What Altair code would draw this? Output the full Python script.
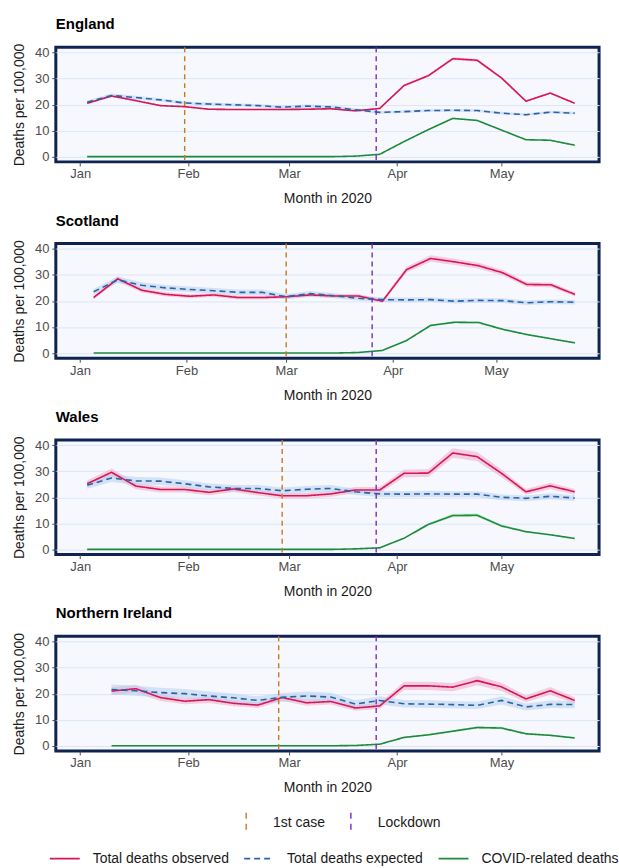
import altair as alt
import pandas as pd

FONT = "Liberation Sans"

# ---- data -------------------------------------------------------------
fridays = ["2020-01-03", "2020-01-10", "2020-01-17", "2020-01-24", "2020-01-31",
           "2020-02-07", "2020-02-14", "2020-02-21", "2020-02-28", "2020-03-06",
           "2020-03-13", "2020-03-20", "2020-03-27", "2020-04-03", "2020-04-10",
           "2020-04-17", "2020-04-24", "2020-05-01", "2020-05-08", "2020-05-15",
           "2020-05-22"]
sundays = ["2020-01-05", "2020-01-12", "2020-01-19", "2020-01-26", "2020-02-02",
           "2020-02-09", "2020-02-16", "2020-02-23", "2020-03-01", "2020-03-08",
           "2020-03-15", "2020-03-22", "2020-03-29", "2020-04-05", "2020-04-12",
           "2020-04-19", "2020-04-26", "2020-05-03", "2020-05-10", "2020-05-17",
           "2020-05-24"]
ni_fridays = fridays[1:]

england_obs = [20.5, 23.3, 21.5, 19.6, 19.2, 18.2, 18.1, 18.1, 18.1, 18.2, 18.4,
               17.6, 18.5, 27.3, 31.1, 37.6, 37.0, 30.2, 21.3, 24.4, 20.5]
england_exp = [20.9, 23.5, 22.7, 21.8, 20.6, 20.2, 19.9, 19.6, 19.0, 19.4, 19.1,
               18.0, 17.0, 17.3, 17.7, 17.8, 17.7, 16.7, 16.1, 17.1, 16.7]
england_cov = [0, 0, 0, 0, 0, 0, 0, 0, 0, 0, 0,
               0.2, 0.9, 5.8, 10.4, 14.7, 13.9, 10.2, 6.5, 6.3, 4.4]

scotland_obs = [21.3, 28.5, 24.1, 22.5, 21.8, 22.3, 21.3, 21.3, 21.6, 22.3, 21.9,
                21.9, 19.9, 32.0, 36.3, 35.0, 33.5, 30.8, 26.3, 26.2, 22.5]
scotland_exp = [23.5, 28.1, 26.0, 25.0, 24.4, 23.9, 23.3, 23.3, 21.6, 22.8, 22.0,
                21.0, 20.5, 20.4, 20.5, 19.9, 20.2, 20.1, 19.3, 19.7, 19.5]
scotland_cov = [0, 0, 0, 0, 0, 0, 0, 0, 0, 0, 0,
                0.2, 1.0, 4.8, 10.6, 11.8, 11.7, 9.1, 7.1, 5.5, 3.9]

wales_obs = [25.2, 29.6, 24.3, 23.0, 23.0, 21.9, 23.2, 21.8, 20.6, 20.6, 21.3,
             22.8, 22.8, 29.2, 29.3, 37.0, 35.6, 29.2, 22.1, 24.4, 22.1]
wales_exp = [24.6, 27.4, 26.3, 26.2, 25.2, 24.0, 23.4, 23.4, 22.5, 23.1, 23.4,
             22.1, 21.3, 21.2, 21.3, 21.2, 21.2, 20.0, 19.6, 20.4, 19.7]
wales_cov = [0, 0, 0, 0, 0, 0, 0, 0, 0, 0, 0,
             0.2, 0.6, 4.3, 9.6, 13.0, 13.1, 9.0, 6.8, 5.6, 4.2]

ni_obs = [21.0, 21.9, 18.5, 17.1, 17.7, 16.3, 15.6, 18.5, 16.5, 17.0,
          14.5, 15.3, 23.0, 23.0, 22.5, 25.0, 22.6, 18.0, 21.1, 17.4]
ni_exp = [21.6, 21.1, 20.4, 20.0, 19.1, 18.4, 17.4, 18.6, 19.1, 18.7,
          16.0, 17.4, 16.1, 16.0, 15.8, 15.5, 17.4, 14.9, 15.9, 15.8]
ni_cov = [0, 0, 0, 0, 0, 0, 0, 0, 0, 0,
          0.1, 0.6, 3.2, 4.2, 5.6, 7.0, 6.8, 4.6, 4.0, 3.0]

# relative half-width of the shaded uncertainty bands (observed/covid, expected)
band_obs = {"England": 0.015, "Scotland": 0.035, "Wales": 0.05, "Northern Ireland": 0.07}
band_exp = {"England": 0.03, "Scotland": 0.045, "Wales": 0.055, "Northern Ireland": 0.09}

countries = ["England", "Scotland", "Wales", "Northern Ireland"]
country_dates = [fridays, sundays, fridays, ni_fridays]
country_obs = [england_obs, scotland_obs, wales_obs, ni_obs]
country_exp = [england_exp, scotland_exp, wales_exp, ni_exp]
country_cov = [england_cov, scotland_cov, wales_cov, ni_cov]
first_case = ["2020-01-31", "2020-03-01", "2020-02-28", "2020-02-27"]
lockdown = ["2020-03-26", "2020-03-26", "2020-03-26", "2020-03-26"]
domain_end = [(5, 29), (5, 31), (5, 29), (5, 29)]

series_names = ["Total deaths observed", "Total deaths expected", "COVID-related deaths"]
band_names = ["observed band", "expected band", "covid band"]
series_colors = ["#d5165a", "#2b63a6", "#1e8a3c"]
band_colors = ["#f3a9c4", "#b7cfee", "#9fdcaa"]
event_names = ["1st case", "Lockdown"]
event_colors = ["#c9791f", "#7b2cbf"]

month_ticks = [alt.DateTime(year=2020, month=m, date=1, utc=True) for m in range(1, 6)]

# ---- chart --------------------------------------------------------------
color_scale = alt.Scale(domain=series_names, range=series_colors)
dash_scale = alt.Scale(domain=series_names, range=[[1, 0], [6, 4], [1, 0]])
fill_scale = alt.Scale(domain=band_names, range=band_colors)
stroke_scale = alt.Scale(domain=event_names, range=event_colors)

series_legend = alt.Legend(
    title=None, orient="none", direction="horizontal", legendX=-7, legendY=798,
    symbolType="stroke", symbolSize=900, symbolStrokeWidth=1.6,
    labelOffset=12, columnPadding=11, labelFontSize=14, labelFont=FONT,
    labelColor="#1a1a1a",
)
event_legend = alt.Legend(
    title=None, orient="none", direction="horizontal", legendX=180, legendY=767,
    symbolType="M0,-1L0,1", symbolSize=400, symbolStrokeWidth=1.4,
    symbolDash=[6, 5], labelOffset=16, columnPadding=14, labelFontSize=14,
    labelFont=FONT, labelColor="#1a1a1a",
)

panels = []
for i, name in enumerate(countries):
    rows = []
    for s, b, vals, rel in [
        (series_names[0], band_names[0], country_obs[i], band_obs[name]),
        (series_names[1], band_names[1], country_exp[i], band_exp[name]),
        (series_names[2], band_names[2], country_cov[i], band_obs[name]),
    ]:
        for d, v in zip(country_dates[i], vals):
            rows.append({"date": d, "series": s, "band": b, "value": v,
                         "lo": v * (1 - rel), "hi": v * (1 + rel)})
    df = pd.DataFrame(rows)
    ev = pd.DataFrame({"date": [first_case[i], lockdown[i]], "event": event_names})

    m, d = domain_end[i]
    xscale = alt.Scale(type="utc", domain=[
        alt.DateTime(year=2019, month=12, date=25, utc=True),
        alt.DateTime(year=2020, month=m, date=d, utc=True)])
    xaxis = alt.Axis(values=month_ticks, format="%b", title="Month in 2020",
                     grid=False, tickSize=4, labelPadding=2, titlePadding=11)
    yscale = alt.Scale(domain=[-2, 42], nice=False, zero=False)
    yaxis = alt.Axis(values=[0, 10, 20, 30, 40], title="Deaths per 100,000",
                     tickSize=4, labelPadding=3, titlePadding=8)

    x = alt.X("date:T", scale=xscale, axis=xaxis)

    bands = alt.Chart(df).mark_area(opacity=0.55).encode(
        x=x,
        y=alt.Y("lo:Q", scale=yscale, axis=yaxis),
        y2="hi:Q",
        fill=alt.Fill("band:N", scale=fill_scale, legend=None),
        detail="band:N",
    )
    lines = alt.Chart(df).mark_line(strokeWidth=1.6).encode(
        x=x,
        y=alt.Y("value:Q", scale=yscale, axis=yaxis),
        color=alt.Color("series:N", scale=color_scale, legend=series_legend),
        strokeDash=alt.StrokeDash("series:N", scale=dash_scale, legend=series_legend),
    )
    rules = alt.Chart(ev).mark_rule(strokeDash=[5, 4], strokeWidth=1.4).encode(
        x=x,
        stroke=alt.Stroke("event:N", scale=stroke_scale, legend=event_legend),
    )
    panel = alt.layer(bands, lines, rules).properties(
        width=545, height=115,
        title=alt.TitleParams(name, anchor="start", frame="group", fontSize=15,
                              fontWeight="bold", font=FONT, color="#000000",
                              offset=11),
    )
    panels.append(panel)

chart = alt.vconcat(*panels, spacing=4).resolve_scale(
    x="independent", y="independent"
).properties(
    padding={"left": 11, "top": 14, "right": 0, "bottom": 0}
).configure_view(
    stroke="#0f2352", strokeWidth=3, fill="#f6f8fd"
).configure_axis(
    labelFont=FONT, titleFont=FONT, labelFontSize=13, titleFontSize=14,
    labelColor="#4d4d4d", titleColor="#1a1a1a", titleFontWeight="normal",
    tickColor="#4d4d4d", domain=False, gridColor="#dbe7f7", gridWidth=1,
)

chart.save("out.html", embed_options={"renderer": "svg", "actions": False})
